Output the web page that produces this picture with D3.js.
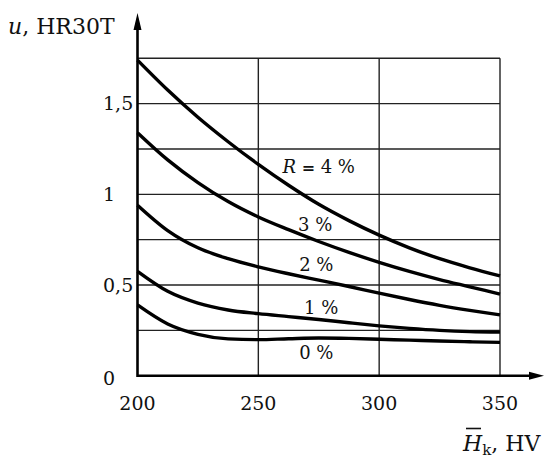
<!DOCTYPE html>
<html>
<head>
<meta charset="utf-8">
<script src="https://cdn.jsdelivr.net/npm/d3@7"></script>
<style>
  html, body { margin: 0; padding: 0; background: #fff; }
  svg { display: block; }
  text { font-family: "DejaVu Serif", "Liberation Serif", serif; fill: #111; }
</style>
</head>
<body>
<svg id="chart" width="545" height="459"></svg>
<script>
// ---- data ----
const hardness = [200, 212.5, 225, 237.5, 250, 262.5, 275, 287.5, 300, 312.5, 325, 337.5, 350];
const r4 = [1.74, 1.575, 1.425, 1.29, 1.165, 1.05, 0.945, 0.855, 0.775, 0.705, 0.645, 0.595, 0.55];
const r3 = [1.34, 1.19, 1.065, 0.96, 0.875, 0.805, 0.74, 0.68, 0.625, 0.575, 0.53, 0.49, 0.45];
const r2 = [0.94, 0.80, 0.705, 0.645, 0.60, 0.562, 0.527, 0.492, 0.455, 0.42, 0.388, 0.36, 0.335];
const r1 = [0.575, 0.465, 0.40, 0.362, 0.342, 0.326, 0.31, 0.292, 0.275, 0.261, 0.25, 0.243, 0.24];
const r0 = [0.39, 0.285, 0.228, 0.203, 0.199, 0.204, 0.208, 0.206, 0.201, 0.196, 0.191, 0.187, 0.184];
const seriesLabels = ["R = 4 %", "3 %", "2 %", "1 %", "0 %"];
const labelAnchors = [[275, 1.12], [273.5, 0.80], [274, 0.575], [276, 0.34], [274, 0.09]];
const xTicks = [200, 250, 300, 350];
const yTicks = [0, 0.5, 1, 1.5];
const yTickLabels = ["0", "0,5", "1", "1,5"];
const yGrid = [0.25, 0.5, 0.75, 1, 1.25, 1.5, 1.75];
const xGrid = [250, 300, 350];

// ---- layout ----
const svg = d3.select("#chart");
const x = d3.scaleLinear().domain([200, 350]).range([137.5, 500]);
const y = d3.scaleLinear().domain([0, 1.75]).range([375.7, 58.3]);

// grid
svg.append("g").selectAll("line").data(yGrid).join("line")
  .attr("x1", x(200)).attr("x2", x(350))
  .attr("y1", d => y(d)).attr("y2", d => y(d))
  .attr("stroke", "#222").attr("stroke-width", 1.4);
svg.append("g").selectAll("line").data(xGrid).join("line")
  .attr("x1", d => x(d)).attr("x2", d => x(d))
  .attr("y1", y(0)).attr("y2", y(1.75))
  .attr("stroke", "#222").attr("stroke-width", 1.4);

// axes
svg.append("line").attr("x1", x(200)).attr("x2", 531).attr("y1", y(0)).attr("y2", y(0))
  .attr("stroke", "#000").attr("stroke-width", 2.6);
svg.append("path").attr("d", `M544,${y(0)} L529,${y(0) - 4} L529,${y(0) + 4} Z`).attr("fill", "#000");
svg.append("line").attr("x1", x(200)).attr("x2", x(200)).attr("y1", y(0) + 1.3).attr("y2", 28)
  .attr("stroke", "#000").attr("stroke-width", 2.6);
svg.append("path").attr("d", `M${x(200)},13 L${x(200) - 4},30 L${x(200) + 4},30 Z`).attr("fill", "#000");

// tick labels
svg.append("g").selectAll("text").data(xTicks).join("text")
  .attr("x", d => x(d)).attr("y", 409.5)
  .attr("text-anchor", "middle").attr("font-size", 19).text(d => d);
svg.append("g").selectAll("text").data(yTicks).join("text")
  .attr("x", 103).attr("y", (d, i) => y(d) + (d === 0 ? 9 : 6.8))
  .attr("font-size", 19).text((d, i) => yTickLabels[i]);

// curves
const line = d3.line().x((d, i) => x(hardness[i])).y(d => y(d)).curve(d3.curveMonotoneX);
svg.append("g").selectAll("path").data([r4, r3, r2, r1, r0]).join("path")
  .attr("d", d => line(d)).attr("fill", "none").attr("stroke", "#000")
  .attr("stroke-width", 3.4).attr("stroke-linejoin", "round");

// curve labels
const lbl = svg.append("g").selectAll("text").data(seriesLabels).join("text")
  .attr("x", (d, i) => x(labelAnchors[i][0]))
  .attr("y", (d, i) => y(labelAnchors[i][1]))
  .attr("text-anchor", "middle").attr("font-size", 18);
lbl.each(function(d, i) {
  const t = d3.select(this);
  if (i === 0) {
    t.append("tspan").attr("font-style", "italic").text("R");
    t.append("tspan").attr("font-family", "DejaVu Sans").attr("font-weight", "bold").attr("font-size", 16).text(" = ");
    t.append("tspan").text("4 %");
  } else {
    t.text(d);
  }
});

// axis titles
const yt = svg.append("text").attr("x", 8).attr("y", 33.5).attr("font-size", 22);
yt.append("tspan").attr("font-style", "italic").text("u");
yt.append("tspan").text(", HR30T");

const xt = svg.append("text").attr("x", 463).attr("y", 450.5).attr("font-size", 22);
xt.append("tspan").attr("font-style", "italic").text("H");
xt.append("tspan").attr("font-size", 15).attr("dy", 4).text("k");
xt.append("tspan").attr("dy", -4).text(", HV");
svg.append("line").attr("x1", 466).attr("x2", 481).attr("y1", 428.5).attr("y2", 428.5)
  .attr("stroke", "#111").attr("stroke-width", 1.6);
</script>
</body>
</html>
